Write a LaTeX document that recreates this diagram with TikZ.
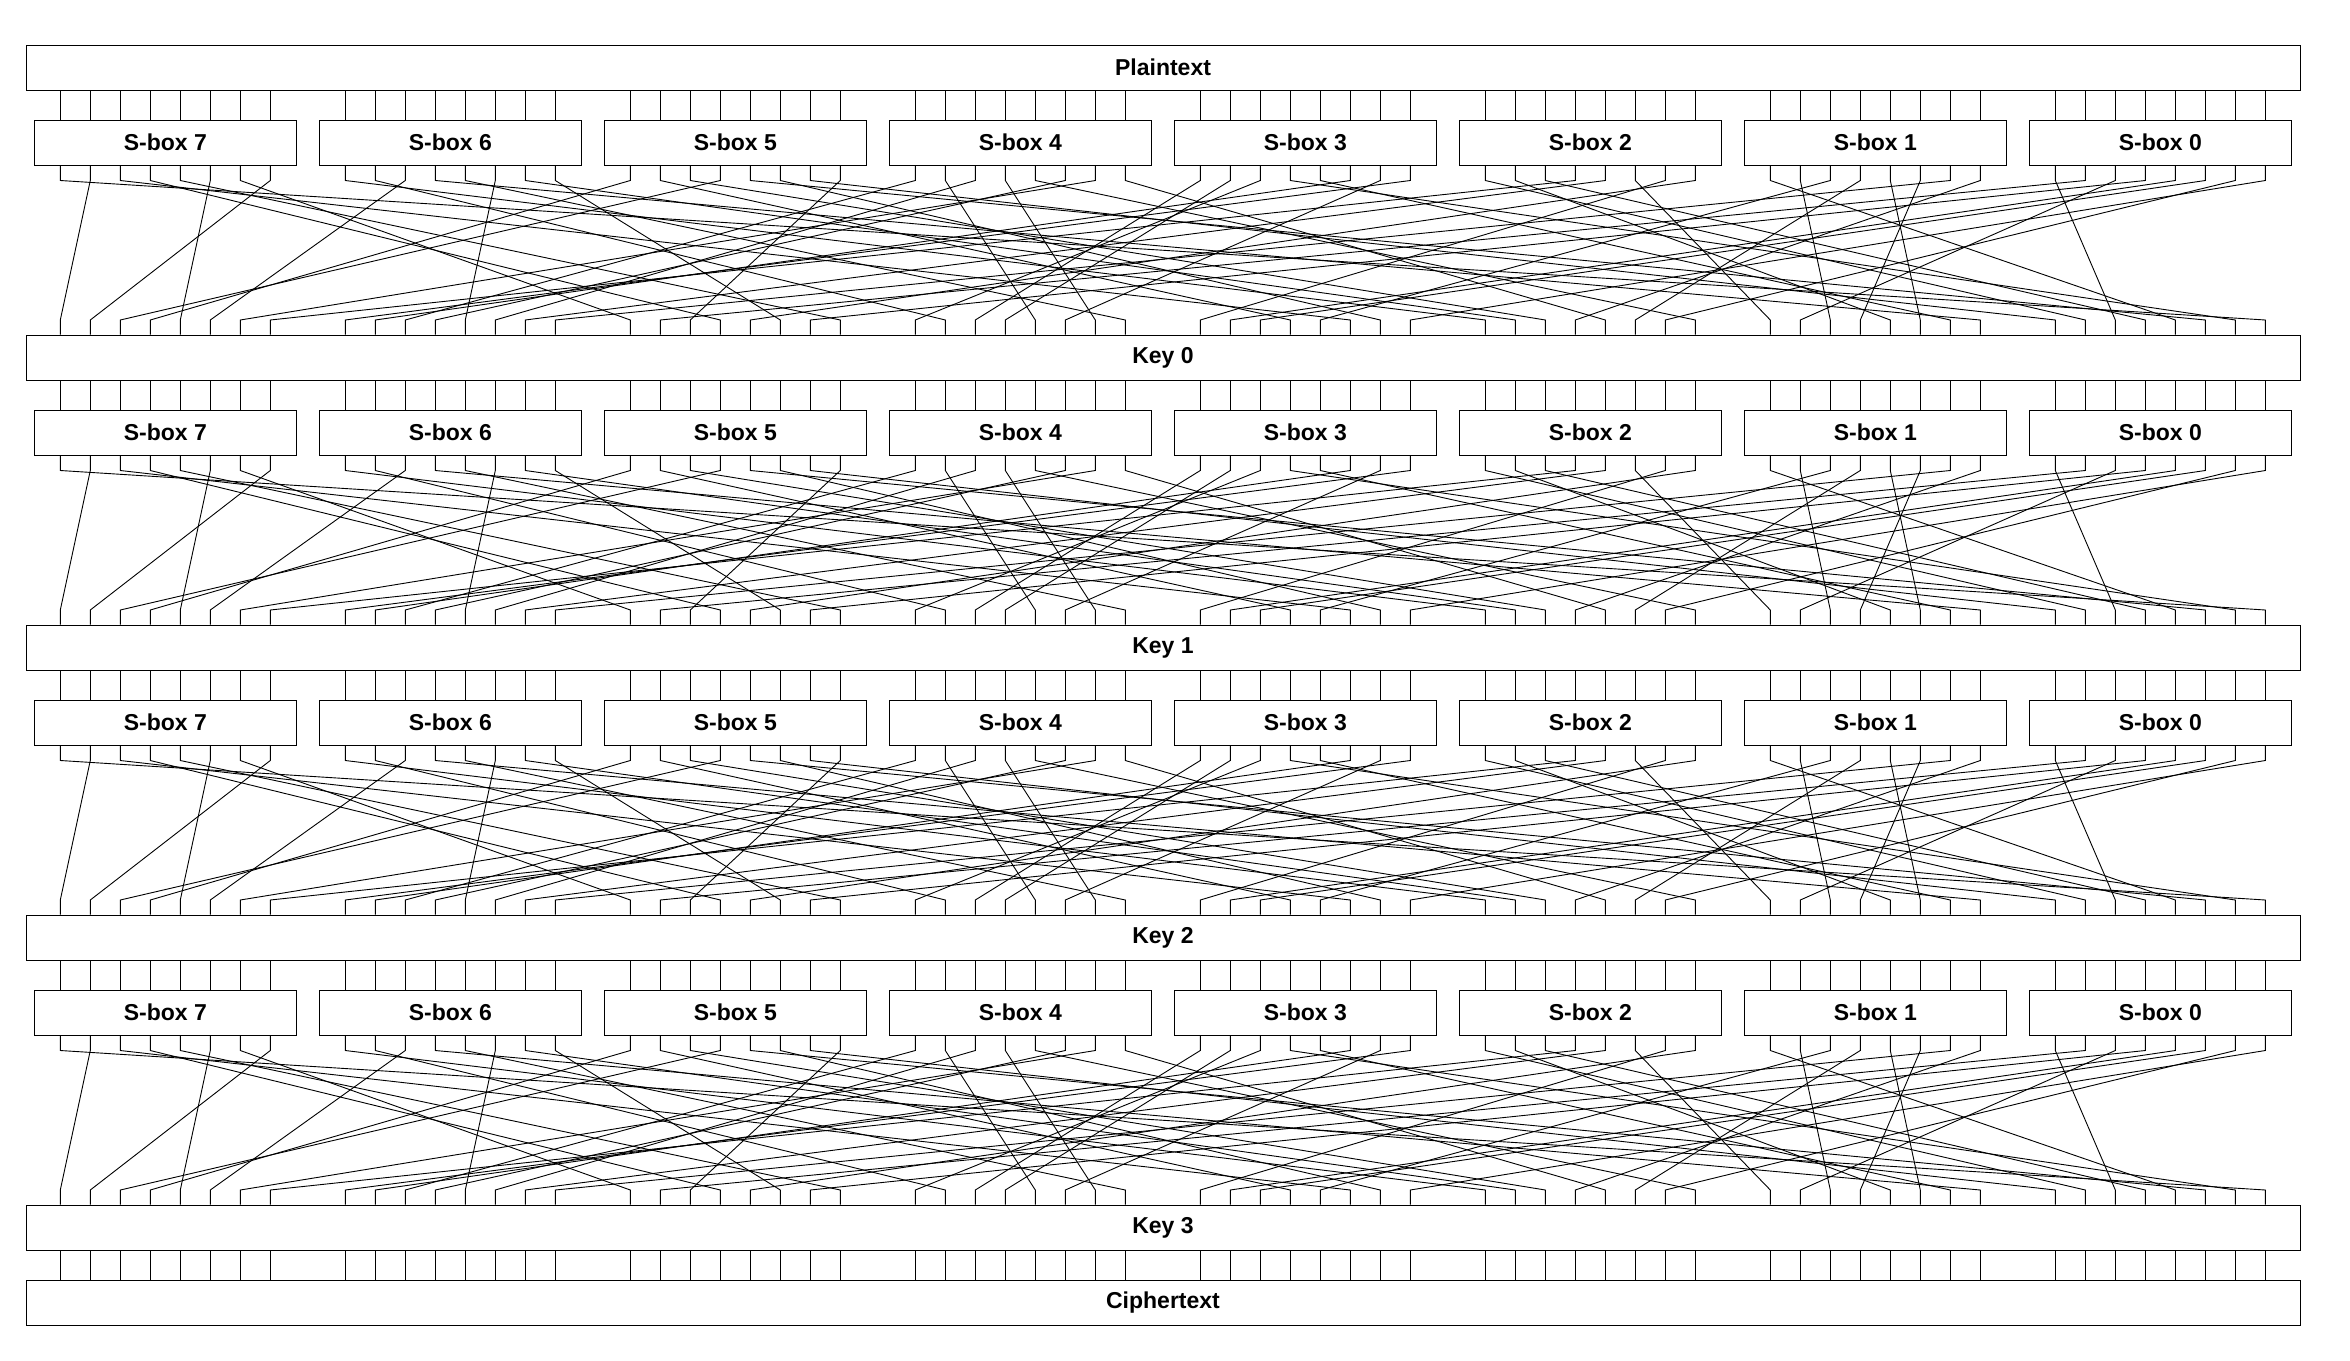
\documentclass[tikz,border=0pt]{standalone}
\usepackage{fontspec}
\setmainfont{Liberation Sans}
\usetikzlibrary{positioning}

% source bit / destination bit of the bit permutation (bits counted left to right)
\def\permlist{0/63,1/0,2/37,3/19,4/23,5/4,6/16,7/1,
8/40,9/25,10/5,11/55,12/31,13/12,14/41,15/21,
16/3,17/35,18/42,19/2,20/61,21/38,22/56,23/18,
24/10,25/28,26/13,27/30,28/47,29/11,30/6,31/44,
32/26,33/27,34/24,35/62,36/54,37/9,38/29,39/8,
40/57,41/52,42/59,43/7,44/14,45/48,46/32,47/20,
48/60,49/50,50/36,51/45,52/53,53/51,54/15,55/43,
56/58,57/17,58/49,59/22,60/33,61/34,62/46,63/39}

\begin{document}
\begin{tikzpicture}[x=1pt, y=-1pt, line join=miter]

    \tikzset{
        bigbox/.style={draw, line width=1pt, minimum width=2274pt, minimum height=45pt, inner sep=0pt, font=\bfseries\fontsize{23}{23}\selectfont},
        sbox/.style={draw, line width=1pt, minimum width=262pt, minimum height=45pt, inner sep=0pt, font=\bfseries\fontsize{23}{23}\selectfont},
        wire/.style={line width=0.9pt}
    }

    \useasboundingbox[fill=white] (0,0) rectangle (2350,1360);

    % top and bottom blocks
    \node[bigbox] (plain) at (1163, 67.5) {Plaintext};
    \node[bigbox] (cipher) at (1163, 1302.5) {Ciphertext};

    % rounds: S-box layer, permutation, key
    \foreach \r in {0,...,3} {
        \node[bigbox] (key\r) at (1163, 357.5+290*\r) {Key \r};
        \foreach \g in {0,...,7} {
            \pgfmathtruncatemacro\lab{7-\g}
            \node[sbox] (sb\r-\g) at (165.3+285*\g, 142.5+290*\r) {S-box \lab};
        }
    }

    % straight bit lines into the S-boxes and into the ciphertext
    \foreach \g in {0,...,7} {
        \foreach \k in {0,...,7} {
            \pgfmathsetmacro\bx{60.3+285*\g+30*\k}
            \draw[wire] (plain.south -| \bx,0) -- (sb0-\g.north -| \bx,0);
            \draw[wire] (key3.south -| \bx,0) -- (cipher.north -| \bx,0);
            \foreach \r [evaluate=\r as \n using int(\r+1)] in {0,1,2} {
                \draw[wire] (key\r.south -| \bx,0) -- (sb\n-\g.north -| \bx,0);
            }
        }
    }

    % permutation wires
    \foreach \r in {0,...,3} {
        \foreach \s/\d in \permlist {
            \pgfmathtruncatemacro\gs{int(\s/8)}
            \pgfmathsetmacro\xs{60.3+285*int(\s/8)+30*mod(\s,8)}
            \pgfmathsetmacro\xd{60.3+285*int(\d/8)+30*mod(\d,8)}
            \draw[wire] (sb\r-\gs.south -| \xs,0) -- ++(0,15)
                -- (\xd, 320+290*\r) -- (key\r.north -| \xd,0);
        }
    }

\end{tikzpicture}
\end{document}
